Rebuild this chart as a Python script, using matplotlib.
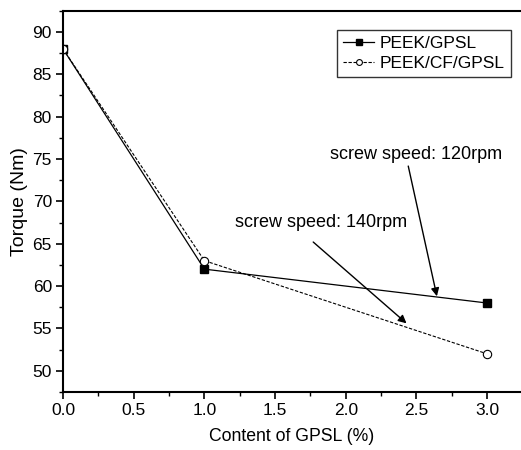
import matplotlib
matplotlib.use('Agg')
import matplotlib.pyplot as plt
from matplotlib.ticker import MultipleLocator

plt.rcParams['font.family'] = ['Liberation Sans', 'DejaVu Sans']

# data
gpsl_content = [0.0, 1.0, 3.0]
torque_peek_gpsl = [88, 62, 58]
torque_peek_cf_gpsl = [88, 63, 52]
label_a = 'PEEK/GPSL'
label_b = 'PEEK/CF/GPSL'

fig = plt.figure(figsize=(5.21, 4.5), dpi=100)
ax = fig.add_axes([0.121, 0.129, 0.879, 0.847])

ax.plot(gpsl_content, torque_peek_gpsl, color='black', lw=0.9, ls='-',
        marker='s', ms=6, mfc='black', mec='black', label=label_a)
ax.plot(gpsl_content, torque_peek_cf_gpsl, color='black', lw=0.8, ls=(0, (3, 1.5)),
        marker='o', ms=6, mfc='white', mec='black', mew=0.8, label=label_b)

ax.set_xlim(0, 3.24)
ax.set_ylim(47.5, 92.5)
ax.xaxis.set_major_locator(MultipleLocator(0.5))
ax.xaxis.set_minor_locator(MultipleLocator(0.25))
ax.yaxis.set_major_locator(MultipleLocator(5))
ax.yaxis.set_minor_locator(MultipleLocator(2.5))
ax.tick_params(which='major', direction='out', length=5, width=1.2, labelsize=12.5, pad=3)
ax.tick_params(which='minor', direction='out', length=3, width=1)
ax.spines['right'].set_visible(False)
for s in ['left', 'bottom', 'top']:
    ax.spines[s].set_linewidth(1.5)

ax.set_xlabel('Content of GPSL (%)', fontsize=12.7, labelpad=7)
ax.set_ylabel('Torque (Nm)', fontsize=14, labelpad=3)

ax.annotate('screw speed: 120rpm', xy=(2.645, 58.8), xytext=(1.89, 75.5),
            fontsize=13, ha='left', va='center',
            arrowprops=dict(arrowstyle='-|>', color='black', lw=1, mutation_scale=12,
                            shrinkA=0, shrinkB=0, relpos=(0.45, 0)))
ax.annotate('', xy=(2.43, 55.6), xytext=(1.77, 65.2),
            arrowprops=dict(arrowstyle='-|>', color='black', lw=1, mutation_scale=12,
                            shrinkA=0, shrinkB=0))
ax.text(1.22, 67.5, 'screw speed: 140rpm', fontsize=13, ha='left', va='center')

leg = ax.legend(loc='upper right', bbox_to_anchor=(0.985, 0.96), fontsize=12.5,
                frameon=True, fancybox=False, edgecolor='black', handlelength=1.8,
                handletextpad=0.3, borderpad=0.35, labelspacing=0.3, markerscale=0.7,
                borderaxespad=0.2)
leg.get_frame().set_linewidth(1.0)

fig.savefig('out.png', dpi=100)
